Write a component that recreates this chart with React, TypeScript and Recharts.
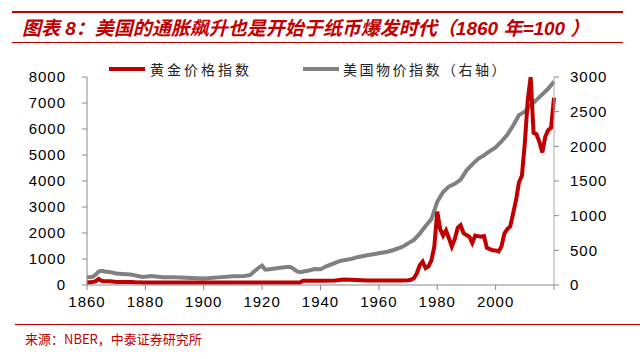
import { LineChart, Line, XAxis, YAxis } from 'recharts';

const goldYears = [
  1860, 1862, 1863, 1864, 1865, 1866, 1868, 1870, 1872, 1875, 1878, 1879, 1890, 1900, 1910, 1920, 1933, 1934,
  1940, 1945, 1948, 1952, 1956, 1960, 1965, 1968, 1970, 1971, 1972, 1973, 1974, 1975, 1976, 1977, 1978,
  1979, 1980, 1981, 1982, 1983, 1984, 1985, 1986, 1987, 1988, 1989, 1990, 1991, 1992, 1993, 1994, 1995,
  1996, 1997, 1998, 1999, 2000, 2001, 2002, 2003, 2004, 2005, 2006, 2007, 2008, 2009, 2010, 2011, 2012,
  2013, 2014, 2015, 2016, 2017, 2018, 2019, 2020,
];
const goldValues = [
  100, 113, 150, 230, 160, 145, 140, 118, 113, 113, 101, 100, 100, 100, 100, 100, 100, 168,
  168, 170, 210, 190, 170, 170, 170, 175, 180, 200, 260, 450, 760, 900, 650, 720, 950,
  1480, 2820, 2150, 1900, 2100, 1800, 1480, 1760, 2200, 2300, 1990, 1920, 1860, 1620, 1900, 1880, 1860,
  1880, 1430, 1380, 1340, 1330, 1290, 1480, 1980, 2150, 2250, 2750, 3270, 3950, 4200, 5450, 7100, 8000,
  5850, 5800, 5500, 5100, 5700, 5950, 6050, 7200,
];

const cpiYears = [
  1860, 1862, 1863, 1864, 1865, 1866, 1868, 1870, 1872, 1875, 1879, 1882, 1886, 1890, 1896, 1900, 1905,
  1910, 1914, 1916, 1917, 1918, 1919, 1920, 1921, 1922, 1925, 1929, 1930, 1932, 1933, 1936, 1938, 1940,
  1942, 1945, 1947, 1950, 1953, 1956, 1960, 1963, 1965, 1968, 1970, 1972, 1974, 1976, 1978, 1980, 1982,
  1984, 1986, 1988, 1990, 1992, 1994, 1996, 1998, 2000, 2002, 2004, 2006, 2008, 2010, 2012, 2014, 2016,
  2018, 2020,
];
const cpiValues = [
  110, 118, 150, 195, 205, 195, 185, 165, 160, 150, 115, 130, 112, 112, 100, 95, 110,
  125, 130, 145, 185, 220, 255, 279, 225, 225, 240, 262, 255, 195, 185, 210, 230, 226,
  270, 320, 350, 370, 405, 430, 457, 480, 505, 550, 600, 650, 740, 850, 950, 1200, 1340,
  1420, 1460, 1520, 1650, 1740, 1820, 1870, 1930, 1985, 2070, 2165, 2300, 2450, 2500, 2590, 2670, 2750,
  2830, 2935,
];

const xTicks = [1860, 1880, 1900, 1920, 1940, 1960, 1980, 2000, 2020];
const leftTicks = [0, 1000, 2000, 3000, 4000, 5000, 6000, 7000, 8000];
const rightTicks = [0, 500, 1000, 1500, 2000, 2500, 3000];

const goldData = goldYears.map((year, i) => ({ year, gold: goldValues[i] }));
const cpiData = cpiYears.map((year, i) => ({ year, cpi: cpiValues[i] }));

const RED = '#C00000';
const GRAY = '#808080';
const tickStyle = { fontSize: 15, fill: '#000', fontFamily: 'Liberation Sans, Arial, sans-serif', letterSpacing: 1 };
const cjk = '"Noto Sans CJK SC", sans-serif';

const App = () => {
  return (
    <div style={{ position: 'absolute', left: 0, top: 0, width: 640, height: 359, background: '#fff' }}>
      <div style={{ position: 'absolute', left: 12, top: 11, width: 611, height: 2, background: RED }} />
      <div
        style={{
          position: 'absolute',
          left: 22,
          top: 16,
          fontSize: 19,
          lineHeight: '26px',
          fontWeight: 'bold',
          fontStyle: 'italic',
          color: RED,
          fontFamily: 'Liberation Sans, ' + cjk,
          whiteSpace: 'nowrap',
        }}
      >
        图表 8：美国的通胀飙升也是开始于纸币爆发时代（1860 年=100 ）
      </div>
      <div style={{ position: 'absolute', left: 12, top: 42, width: 611, height: 1, background: RED }} />

      <div style={{ position: 'absolute', left: 109, top: 59, display: 'flex', alignItems: 'center', fontFamily: cjk, fontSize: 14, color: '#222', letterSpacing: 3, whiteSpace: 'nowrap' }}>
        <span style={{ display: 'inline-block', width: 36, height: 4, background: RED, marginRight: 5 }} />
        <span>黄金价格指数</span>
      </div>
      <div style={{ position: 'absolute', left: 303, top: 59, display: 'flex', alignItems: 'center', fontFamily: cjk, fontSize: 14, color: '#222', letterSpacing: 2.5, whiteSpace: 'nowrap' }}>
        <span style={{ display: 'inline-block', width: 36, height: 4, background: GRAY, marginRight: 4 }} />
        <span>美国物价指数（右轴）</span>
      </div>

      <div style={{ position: 'absolute', left: 0, top: 0 }}>
        <LineChart width={640} height={320} margin={{ top: 77, right: 0, left: 0, bottom: 5 }}>
          <XAxis
            dataKey="year"
            type="number"
            domain={[1860, 2020]}
            ticks={xTicks}
            allowDuplicatedCategory={false}
            tick={tickStyle}
            tickFormatter={(v) => (v === 2020 ? '' : String(v))}
            tickLine={{ stroke: '#888' }}
            axisLine={{ stroke: '#888' }}
            tickSize={5}
            tickMargin={6}
            height={30}
          />
          <YAxis
            yAxisId="left"
            domain={[0, 8000]}
            ticks={leftTicks}
            allowDataOverflow
            tick={tickStyle}
            tickLine={{ stroke: '#888' }}
            axisLine={{ stroke: '#888' }}
            tickSize={5}
            tickMargin={16}
            width={87}
          />
          <YAxis
            yAxisId="right"
            orientation="right"
            domain={[0, 3000]}
            ticks={rightTicks}
            tick={{ ...tickStyle, textAnchor: 'start' }}
            tickLine={{ stroke: '#888' }}
            axisLine={{ stroke: '#aaa' }}
            tickSize={5}
            tickMargin={11}
            width={86}
          />
          <Line
            yAxisId="right"
            data={cpiData}
            dataKey="cpi"
            type="linear"
            stroke={GRAY}
            strokeWidth={4}
            dot={false}
            isAnimationActive={false}
          />
          <Line
            yAxisId="left"
            data={goldData}
            dataKey="gold"
            type="linear"
            stroke={RED}
            strokeWidth={4}
            dot={false}
            isAnimationActive={false}
          />
        </LineChart>
      </div>

      <div style={{ position: 'absolute', left: 15, top: 324, width: 625, height: 1, background: RED }} />
      <div style={{ position: 'absolute', left: 25, top: 330, fontSize: 13, lineHeight: '18px', color: RED, fontFamily: cjk, whiteSpace: 'nowrap' }}>
        来源：NBER，中泰证券研究所
      </div>
    </div>
  );
};

export default App;
